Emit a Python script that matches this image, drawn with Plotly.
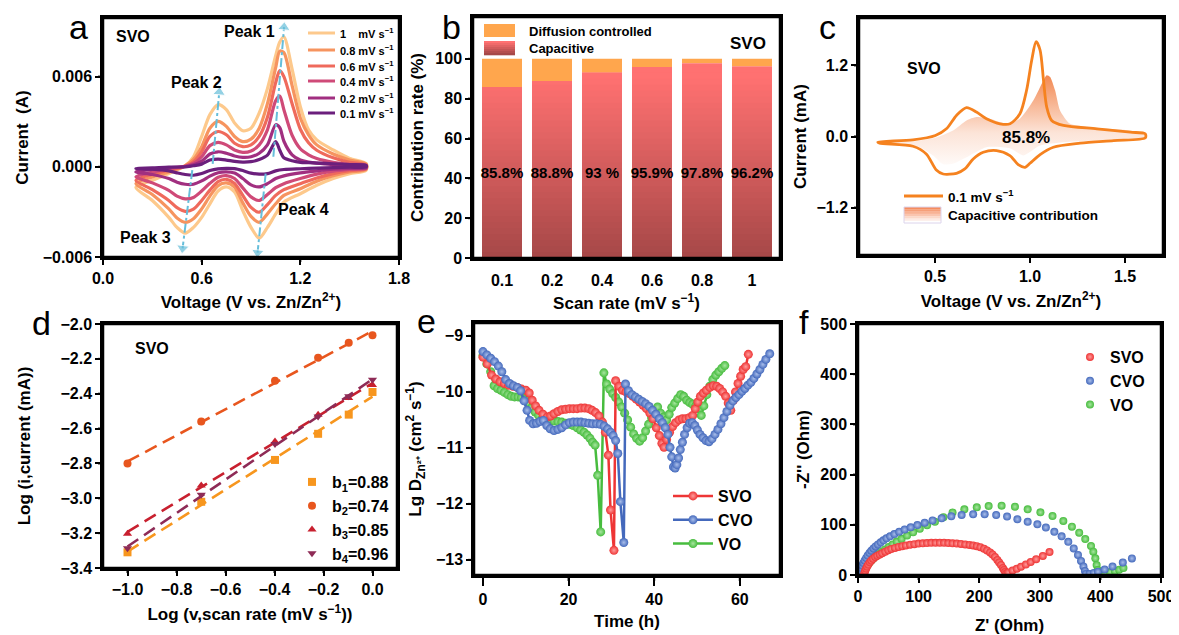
import numpy as np
import plotly.graph_objects as go

# The page body has an 8px default margin, so the figure is laid out in page pixels minus 8.
OFF = 8
W, H = 1179 - OFF, 635 - OFF
FONT = "Liberation Sans, Arial, Helvetica, sans-serif"

# ---------------- (a) CV curves at different scan rates (A) ----------------
cv_voltage_anodic = [0.2, 0.3, 0.4, 0.5, 0.55, 0.6, 0.65, 0.7, 0.75, 0.8, 0.85, 0.9, 0.95,
                     1.0, 1.05, 1.075, 1.1, 1.15, 1.2, 1.25, 1.3, 1.4, 1.5, 1.6]
cv_voltage_cathodic = [1.6, 1.5, 1.4, 1.3, 1.2, 1.1, 1.05, 1.0, 0.95, 0.9, 0.85, 0.8, 0.75,
                       0.7, 0.65, 0.6, 0.55, 0.5, 0.45, 0.4, 0.3, 0.2]
scan_rate_names = ["1\u00a0\u00a0\u00a0\u00a0mV s<sup>\u22121</sup>", "0.8 mV s<sup>\u22121</sup>",
                   "0.6 mV s<sup>\u22121</sup>", "0.4 mV s<sup>\u22121</sup>",
                   "0.2 mV s<sup>\u22121</sup>", "0.1 mV s<sup>\u22121</sup>"]
cv_colors = ["#FDC98C", "#F6945F", "#EF6A5C", "#CF4A78", "#A12F80", "#6B1F7C"]

cv_1_anodic = [-0.00136, -0.0009, -0.00045, 0.00007, 0.00067, 0.00202, 0.00347, 0.00414, 0.00381,
               0.00291, 0.0024, 0.00257, 0.00358, 0.0052, 0.0074, 0.0083, 0.00865, 0.0065, 0.004,
               0.00246, 0.00179, 0.00112, 0.00056, 0.00022]
cv_1_cathodic = [-0.00022, -0.00045, -0.00078, -0.00123, -0.00179, -0.00235, -0.00313, -0.00403,
                 -0.00475, -0.00403, -0.00291, -0.00168, -0.00134, -0.00161, -0.00246, -0.00336,
                 -0.00403, -0.00441, -0.00403, -0.00336, -0.00224, -0.00136]
cv_08_anodic = [-0.00112, -0.00067, -0.00034, 0.00007, 0.00049, 0.00134, 0.00257, 0.00302, 0.00269,
                0.00202, 0.00168, 0.00184, 0.00257, 0.0042, 0.0066, 0.0077, 0.0076, 0.0054, 0.00325,
                0.00213, 0.00146, 0.00085, 0.00045, 0.00018]
cv_08_cathodic = [-0.00018, -0.00034, -0.0006, -0.00096, -0.00146, -0.0019, -0.00246, -0.00313,
                  -0.00369, -0.0033, -0.0024, -0.00135, -0.00107, -0.00125, -0.00195, -0.0028,
                  -0.00345, -0.00369, -0.0034, -0.0028, -0.00184, -0.00112]
cv_06_anodic = [-0.0009, -0.00049, -0.00022, 0.00004, 0.00034, 0.001, 0.00202, 0.00235, 0.00213,
                0.00157, 0.00134, 0.00146, 0.00202, 0.0033, 0.0056, 0.0064, 0.006, 0.0042, 0.0025,
                0.0016, 0.0011, 0.0006, 0.0003, 0.00013]
cv_06_cathodic = [-0.00013, -0.00025, -0.00045, -0.00074, -0.00112, -0.00152, -0.0019, -0.00251,
                  -0.00302, -0.0027, -0.0019, -0.0011, -0.00083, -0.00098, -0.00155, -0.00224,
                  -0.00282, -0.00296, -0.00272, -0.00224, -0.00152, -0.0009]
cv_04_anodic = [-0.00067, -0.00036, -0.00013, 0.00004, 0.00022, 0.00067, 0.00141, 0.00163, 0.00146,
                0.00112, 0.00096, 0.00105, 0.00146, 0.00246, 0.0044, 0.0047, 0.0038, 0.0021, 0.0012,
                0.0008, 0.00055, 0.0003, 0.00017, 0.0001]
cv_04_cathodic = [-0.00011, -0.00018, -0.00029, -0.00049, -0.00078, -0.00112, -0.00139, -0.00184,
                  -0.00224, -0.002, -0.0014, -0.00078, -0.00058, -0.0007, -0.0011, -0.00161,
                  -0.00204, -0.00213, -0.00195, -0.00157, -0.00107, -0.00067]
cv_02_anodic = [-0.00034, -0.00018, -0.00007, 0.00002, 0.00013, 0.00038, 0.00085, 0.001, 0.0009,
                0.00072, 0.00063, 0.00067, 0.0009, 0.00146, 0.0028, 0.0026, 0.0017, 0.0008, 0.00045,
                0.00032, 0.00024, 0.00015, 0.0001, 0.00007]
cv_02_cathodic = [-0.00007, -0.0001, -0.00016, -0.00027, -0.0004, -0.0006, -0.00078, -0.00112,
                  -0.00134, -0.0012, -0.00078, -0.00042, -0.00034, -0.0004, -0.00062, -0.00094,
                  -0.00116, -0.00116, -0.00102, -0.00078, -0.00051, -0.00034]
cv_01_anodic = [-0.00011, -0.00007, -0.00002, 0.0, 0.00007, 0.00018, 0.00045, 0.00051, 0.00045,
                0.00036, 0.00031, 0.00034, 0.00049, 0.00078, 0.00168, 0.0011, 0.0006, 0.0004, 0.0003,
                0.00028, 0.00025, 0.0002, 0.00015, 0.0001]
cv_01_cathodic = [0.0, -0.00003, -0.00005, -0.00009, -0.00013, -0.00018, -0.00027, -0.00045,
                  -0.00049, -0.00042, -0.00025, -0.00012, -0.0001, -0.00014, -0.00025, -0.00045,
                  -0.00056, -0.00051, -0.0004, -0.00027, -0.00016, -0.00011]
cv_anodic_all = [cv_1_anodic, cv_08_anodic, cv_06_anodic, cv_04_anodic, cv_02_anodic, cv_01_anodic]
cv_cathodic_all = [cv_1_cathodic, cv_08_cathodic, cv_06_cathodic, cv_04_cathodic, cv_02_cathodic,
                   cv_01_cathodic]

peak_names = ["Peak 1", "Peak 2", "Peak 3", "Peak 4"]
peak_arrow_v = [[1.036, 1.101], [0.667, 0.707], [0.543, 0.484], [0.989, 0.94]]
peak_arrow_i = [[0.00067, 0.00929], [0.0002, 0.00497], [-0.00022, -0.00542], [-0.00045, -0.00571]]
peak_label_v = [0.888, 0.566, 0.261, 1.222]
peak_label_i = [0.0090, 0.0056, -0.00473, -0.00287]

# ---------------- (b) contribution ratio ----------------
scan_rates_b = ["0.1", "0.2", "0.4", "0.6", "0.8", "1"]
capacitive_pct = [85.8, 88.8, 93.0, 95.9, 97.8, 96.2]
diffusion_pct = [14.2, 11.2, 7.0, 4.1, 2.2, 3.8]
pct_labels = ["85.8%", "88.8%", "93 %", "95.9%", "97.8%", "96.2%"]

# ---------------- (c) capacitive contribution at 0.1 mV/s (mA) ----------------
c_anodic_v = [0.199, 0.384, 0.502, 0.56, 0.613, 0.666, 0.718, 0.771, 0.842, 0.895, 0.947, 0.982,
              1.009, 1.032, 1.053, 1.071, 1.088, 1.114, 1.176, 1.352, 1.528, 1.607]
c_anodic_i = [-0.096, -0.057, 0.017, 0.13, 0.356, 0.486, 0.412, 0.3, 0.215, 0.215, 0.384, 0.78,
              1.288, 1.599, 1.458, 0.949, 0.497, 0.271, 0.186, 0.13, 0.073, 0.045]
c_cathodic_v = [1.607, 1.44, 1.264, 1.123, 1.053, 1.0, 0.974, 0.938, 0.894, 0.824, 0.754, 0.701,
                0.657, 0.613, 0.543, 0.507, 0.454, 0.384, 0.208, 0.199]
c_cathodic_i = [-0.023, -0.068, -0.113, -0.181, -0.305, -0.452, -0.52, -0.475, -0.322, -0.237,
                -0.266, -0.379, -0.547, -0.621, -0.633, -0.565, -0.294, -0.164, -0.113, -0.096]
cap_upper_v = [0.208, 0.384, 0.502, 0.595, 0.666, 0.718, 0.789, 0.877, 0.947, 1.018, 1.071, 1.088,
               1.106, 1.132, 1.158, 1.211, 1.352, 1.528, 1.607]
cap_upper_i = [-0.1, -0.085, -0.023, 0.1, 0.271, 0.328, 0.3, 0.215, 0.3, 0.61, 0.95, 1.035, 1.006,
               0.78, 0.44, 0.215, 0.147, 0.102, 0.045]
cap_lower_v = [1.607, 1.352, 1.176, 1.053, 0.965, 0.894, 0.771, 0.666, 0.595, 0.543, 0.49, 0.419,
               0.296, 0.208]
cap_lower_i = [-0.023, -0.068, -0.096, -0.152, -0.32, -0.2, -0.18, -0.35, -0.46, -0.47, -0.32,
               -0.18, -0.113, -0.1]

# ---------------- (d) log(i) vs log(v) ----------------
log_scan_rate = [-1.0, -0.699, -0.398, -0.222, -0.097, 0.0]
log_i_peak1 = [-3.31, -3.02, -2.78, -2.63, -2.52, -2.39]
log_i_peak2 = [-2.80, -2.56, -2.325, -2.193, -2.107, -2.065]
log_i_peak3 = [-3.203, -2.926, -2.674, -2.52, -2.425, -2.35]
log_i_peak4 = [-3.286, -2.98, -2.688, -2.531, -2.415, -2.32]
b_names = ["b<sub>1</sub>=0.88", "b<sub>2</sub>=0.74", "b<sub>3</sub>=0.85", "b<sub>4</sub>=0.96"]

# ---------------- (e) GITT diffusion coefficients ----------------
svo_time = [0, 1.0, 2.0, 3.0, 4.0, 5.0, 6.0, 7.0, 8.0, 9.0, 10.0, 10.8, 11.5, 12.3, 13.1, 14.0,
            15.0, 15.8, 16.6, 17.5, 18.4, 19.3, 20.2, 21.1, 22.0, 22.9, 23.8, 24.7, 25.5, 26.3,
            27.1, 27.9, 28.6, 29.3, 29.8, 30.6, 31.0, 31.8, 32.6, 33.4, 34.2, 35.0, 35.8, 36.6,
            37.4, 38.2, 39.0, 39.7, 40.5, 41.2, 41.8, 42.3, 42.9, 43.6, 44.3, 45.0, 45.8, 46.6,
            47.4, 48.2, 49.0, 49.6, 50.2, 50.8, 51.5, 52.2, 53.0, 53.8, 54.6, 55.3, 56.0, 56.7,
            57.3, 57.9, 58.5, 59.0, 59.6, 60.2, 60.8, 61.4, 62.0]
svo_lgd = [-9.38, -9.5, -9.7, -9.77, -9.82, -9.85, -9.88, -9.9, -9.92, -9.95, -9.97, -10.02,
           -10.15, -10.25, -10.33, -10.4, -10.45, -10.43, -10.39, -10.35, -10.32, -10.31, -10.3,
           -10.3, -10.3, -10.29, -10.29, -10.3, -10.33, -10.37, -10.43, -10.54, -10.72, -11.13,
           -12.11, -12.83, -9.8, -9.9, -9.97, -10.0, -10.03, -10.08, -10.13, -10.18, -10.24, -10.3,
           -10.38, -10.48, -10.64, -10.78, -10.92, -10.99, -10.85, -10.72, -10.62, -10.55, -10.5,
           -10.48, -10.48, -10.46, -10.42, -10.3, -10.18, -10.08, -10.02, -9.97, -9.92, -9.89, -9.9,
           -9.94, -10.0, -10.08, -10.2, -10.33, -10.15, -10.0, -9.85, -9.72, -9.6, -9.55, -9.33]
cvo_time = [0, 0.9, 1.8, 2.7, 3.6, 4.4, 5.3, 6.2, 7.1, 8.0, 8.8, 9.6, 10.3, 10.9, 11.7, 12.5, 13.3,
            14.1, 14.9, 15.7, 16.6, 17.5, 18.4, 19.3, 20.2, 21.1, 22.0, 22.9, 23.8, 24.7, 25.6,
            26.5, 27.4, 28.3, 29.1, 29.8, 30.4, 31.0, 31.5, 32.1, 32.9, 33.3, 34.0, 34.8, 35.6,
            36.4, 37.2, 38.0, 38.8, 39.6, 40.4, 41.2, 41.9, 42.6, 43.2, 43.7, 44.1, 44.5, 44.9,
            45.3, 45.7, 46.1, 46.6, 47.1, 47.7, 48.3, 48.9, 49.5, 50.1, 50.7, 51.4, 52.1, 52.8,
            53.5, 54.2, 54.9, 55.6, 56.3, 57.0, 57.7, 58.4, 59.1, 59.8, 60.5, 61.2, 61.9, 62.6,
            63.3, 64.0, 64.7, 65.4, 66.1, 67.0]
cvo_lgd = [-9.28, -9.34, -9.40, -9.46, -9.54, -9.64, -9.78, -9.85, -9.89, -9.92, -9.98, -10.16,
           -10.33, -10.51, -10.57, -10.56, -10.53, -10.51, -10.6, -10.66, -10.69, -10.67, -10.64,
           -10.59, -10.55, -10.54, -10.54, -10.54, -10.55, -10.56, -10.57, -10.57, -10.58, -10.61,
           -10.66, -10.72, -10.78, -10.87, -11.10, -11.96, -12.69, -9.86, -9.98, -10.05, -10.09,
           -10.13, -10.17, -10.21, -10.26, -10.33, -10.40, -10.48, -10.55, -10.64, -10.76, -10.99,
           -11.16, -11.34, -11.36, -11.30, -11.18, -11.03, -10.9, -10.76, -10.64, -10.56, -10.55,
           -10.6, -10.68, -10.76, -10.82, -10.87, -10.89, -10.84, -10.76, -10.67, -10.57, -10.46,
           -10.35, -10.24, -10.16, -10.1, -10.05, -9.99, -9.94, -9.88, -9.83, -9.76, -9.68, -9.6,
           -9.51, -9.42, -9.32]
vo_time = [0, 0.9, 1.8, 2.6, 3.4, 4.2, 5.0, 5.8, 6.6, 7.4, 8.2, 9.0, 9.8, 10.6, 11.4, 12.2, 13.0,
           13.9, 14.8, 15.7, 16.6, 17.5, 18.4, 19.3, 20.2, 21.1, 22.0, 22.8, 23.6, 24.3, 25.0, 25.6,
           26.2, 26.8, 27.5, 28.25, 28.9, 29.6, 30.3, 31.0, 31.7, 32.4, 33.1, 33.8, 34.5, 35.2,
           35.9, 36.6, 37.3, 38.0, 38.7, 39.4, 40.1, 40.8, 41.5, 42.2, 42.9, 43.5, 44.1, 44.8, 45.5,
           46.2, 46.9, 47.6, 48.3, 49.0, 49.7, 50.4, 51.0, 51.6, 52.3, 53.0, 53.7, 54.4, 55.1,
           55.8, 56.5]
vo_lgd = [-9.35, -9.5, -9.64, -9.89, -9.94, -9.97, -10.01, -10.05, -10.08, -10.09, -10.09, -10.1,
          -10.13, -10.2, -10.28, -10.36, -10.42, -10.47, -10.5, -10.51, -10.52, -10.53, -10.54,
          -10.56, -10.58, -10.6, -10.64, -10.68, -10.72, -10.77, -10.83, -10.9, -10.95, -11.49,
          -12.5, -9.66, -9.86, -9.95, -10.03, -10.1, -10.18, -10.27, -10.38, -10.5, -10.63, -10.75,
          -10.83, -10.88, -10.82, -10.7, -10.58, -10.46, -10.36, -10.27, -10.38, -10.45, -10.5,
          -10.4, -10.28, -10.2, -10.12, -10.05, -10.08, -10.15, -10.19, -10.22, -10.25, -10.3,
          -10.42, -10.25, -10.05, -9.9, -9.78, -9.7, -9.64, -9.58, -9.53]

# ---------------- (f) Nyquist plots ----------------
svo_zre = [10, 11, 12, 13.5, 15, 17, 19.5, 22, 25, 28.5, 32, 36, 40, 45, 50, 55, 61, 67, 73, 79,
           86, 93, 100, 107, 114, 121, 128, 135, 142, 149, 156, 163, 170, 177, 184, 190, 196, 202,
           208, 213, 218, 222, 226, 230, 233, 236, 239, 241, 243, 245, 248, 255, 262, 269, 277,
           285, 294, 305, 316]
svo_zim = [1, 5, 9, 13, 17, 21, 25.5, 29, 32.5, 36, 38.5, 41, 43.5, 46.5, 49.5, 52, 54, 56, 57.5,
           59, 60.5, 61.5, 62.5, 63, 63.5, 64, 64, 64, 64, 63.5, 63, 62.5, 62, 61, 60, 59, 57.5,
           55.5, 52.5, 49, 45, 41, 36, 30, 25, 20, 14, 10, 6, 3, 5, 9, 12.5, 16.5, 21, 26, 31.5,
           38, 46]
cvo_zre = [2, 3, 4, 5.5, 7, 9, 11, 13.5, 16, 19, 22, 25.5, 29, 33, 37.5, 42, 47, 53, 60, 68, 77,
           87, 98, 110, 123, 138, 154, 171, 190, 209, 228, 246, 263, 280, 296, 310, 324, 336, 347,
           356, 363, 368, 372, 374.5, 376, 382, 389, 396, 407, 420, 437, 452]
cvo_zim = [1, 5, 9, 14, 19, 24, 29, 34, 39, 44, 48.5, 53, 57, 61, 65, 69, 73, 77, 81.5, 86, 90.5,
           95, 99.5, 104, 108.5, 113, 117, 119.5, 121, 121, 119.5, 116.5, 111, 106, 101, 94.5, 86,
           77, 66, 53, 40, 28, 17, 8, 2, 2, 4, 6.5, 11, 17, 25, 33]
vo_zre = [8, 9, 10.5, 12, 14, 16.5, 19, 22, 25.5, 29.5, 34, 39, 44.5, 50.5, 57, 64, 72, 81, 91,
          102, 114, 127, 141, 156, 175.5, 196, 215.6, 237, 259, 280, 301, 321, 338.8, 353, 365,
          375, 384.5, 388.3, 391.6, 393.8, 395.5, 397, 400, 408, 416, 424, 431, 438]
vo_zim = [1, 5, 9, 13, 17, 21, 25, 29, 33, 37.5, 42, 46.5, 51, 56, 61, 66.5, 72, 78.5, 85, 92, 99,
          106, 115, 124.5, 130.8, 134.8, 137.4, 138, 136, 130.8, 124.8, 117.5, 107.6, 96.3, 84.3,
          71.7, 57.8, 46.4, 33.2, 19.9, 10, 2, 2, 4, 6, 8, 10.5, 14]

# tick values
ticks_a_x = [0, 0.6, 1.2, 1.8]
ticks_a_y = [-0.006, 0, 0.006]
ticks_b_y = [0, 20, 40, 60, 80, 100]
ticks_c_x = [0.5, 1.0, 1.5]
ticks_c_y = [-1.2, 0, 1.2]
ticks_d_x = [-1.0, -0.8, -0.6, -0.4, -0.2, 0.0]
ticks_d_y = [-3.4, -3.2, -3.0, -2.8, -2.6, -2.4, -2.2, -2.0]
ticks_e_x = [0, 20, 40, 60]
ticks_e_y = [-13, -12, -11, -10, -9]
ticks_f = [0, 100, 200, 300, 400, 500]

RED, BLUE, GREEN = "#EE3535", "#4469BC", "#47BC3E"
RED_HI, BLUE_HI, GREEN_HI = "#FF9C9C", "#A9BEEA", "#A8E6A0"
ORANGE_C = "#F5821F"


def px(x):
    return (x - OFF) / W


def py(y):
    return 1 - (y - OFF) / H


def dom_x(left, right):
    return [px(left), px(right)]


def dom_y(top, bottom):
    return [py(bottom), py(top)]


# plot boxes in page pixels: (left, top, right, bottom)
BOX = {"a": (103, 18, 399, 257), "b": (473, 17, 780, 258), "c": (859, 18, 1163, 255),
       "d": (103, 324, 397, 568), "e": (474, 323, 780, 575), "f": (858, 324, 1161, 575)}


def tfont(size=16):
    return dict(family=FONT, size=size, color="black", weight="bold")


def axis(domain, anchor, rng, title, standoff, **kw):
    d = dict(domain=domain, anchor=anchor, range=rng, showline=True, linecolor="black",
             linewidth=2.5, mirror=True, ticks="outside", ticklen=5, tickwidth=2,
             tickcolor="black", showgrid=False, zeroline=False, tickfont=tfont(16),
             automargin=False,
             title=dict(text=title, font=tfont(17), standoff=standoff))
    d.update(kw)
    return d


fig = go.Figure()

# ----- panel a -----
for name, col, an, ca in zip(scan_rate_names, cv_colors, cv_anodic_all, cv_cathodic_all):
    fig.add_trace(go.Scatter(x=cv_voltage_anodic + cv_voltage_cathodic, y=an + ca, mode="lines",
                             name=name, showlegend=False,
                             line=dict(color=col, width=3.2, shape="spline", smoothing=0.8),
                             xaxis="x", yaxis="y"))
for av, ai in zip(peak_arrow_v, peak_arrow_i):
    fig.add_trace(go.Scatter(x=av, y=ai, mode="lines+markers", showlegend=False,
                             line=dict(color="#66BEDA", width=2, dash="dashdot"),
                             marker=dict(symbol="triangle-up", size=[0, 11], angleref="previous",
                                         color="#66BEDA"),
                             xaxis="x", yaxis="y"))

# ----- panel b (gradient-shaded bars) -----
fig.add_trace(go.Bar(x=scan_rates_b, y=diffusion_pct, base=capacitive_pct, name="Diffusion controlled",
                     marker=dict(color="#FFA64D", line=dict(width=0)), showlegend=False,
                     xaxis="x2", yaxis="y2"))
BAND = 3.0
bottom_rgb = np.array([166, 72, 72])
top_rgb = np.array([255, 113, 113])
n_band = int(np.ceil(max(capacitive_pct) / BAND))
for k in range(n_band - 1, -1, -1):
    top = (k + 1) * BAND
    t = min((k + 0.5) * BAND / 90.0, 1.0)
    rgb = (bottom_rgb + t * (top_rgb - bottom_rgb)).astype(int)
    fig.add_trace(go.Bar(x=scan_rates_b, y=[min(c, top) for c in capacitive_pct],
                         marker=dict(color="rgb(%d,%d,%d)" % tuple(rgb), line=dict(width=0)),
                         showlegend=False, hoverinfo="skip", xaxis="x2", yaxis="y2",
                         name="Capacitive"))
fig.add_trace(go.Scatter(x=scan_rates_b, y=[42] * len(scan_rates_b), text=pct_labels, mode="text",
                         textfont=tfont(15), showlegend=False, xaxis="x2", yaxis="y2"))

# ----- panel c -----
fig.add_trace(go.Scatter(x=cap_upper_v + cap_lower_v, y=cap_upper_i + cap_lower_i, fill="toself",
                         mode="lines", line=dict(width=0, shape="spline", smoothing=0.6),
                         fillgradient=dict(type="vertical", start=-0.6, stop=1.05,
                                           colorscale=[[0, "#FFFFFF"], [0.4, "#FCE4D8"],
                                                       [1, "#F2874F"]]),
                         showlegend=False, xaxis="x3", yaxis="y3"))
fig.add_trace(go.Scatter(x=c_anodic_v + c_cathodic_v, y=c_anodic_i + c_cathodic_i, mode="lines",
                         line=dict(color=ORANGE_C, width=2.8, shape="spline", smoothing=0.8),
                         showlegend=False, xaxis="x3", yaxis="y3"))

# ----- panel d -----
d_series = [log_i_peak1, log_i_peak2, log_i_peak3, log_i_peak4]
d_colors = ["#F7961E", "#E8561E", "#C8202F", "#8E2B56"]
d_symbols = ["square", "circle", "triangle-up", "triangle-down"]
for ys, col, sym, nm in zip(d_series, d_colors, d_symbols, b_names):
    slope, icpt = np.polyfit(log_scan_rate, ys, 1)
    fx = [log_scan_rate[0], log_scan_rate[-1]]
    fig.add_trace(go.Scatter(x=fx, y=[slope * v + icpt for v in fx], mode="lines",
                             line=dict(color=col, width=2.6, dash="13px,7px"), showlegend=False,
                             xaxis="x4", yaxis="y4"))
    fig.add_trace(go.Scatter(x=log_scan_rate, y=ys, mode="markers", name=nm,
                             marker=dict(symbol=sym, size=8, color=col), xaxis="x4", yaxis="y4",
                             legend="legend2"))

# ----- panel e -----
for t, v, col, hi, nm, rk in [(vo_time, vo_lgd, GREEN, GREEN_HI, "VO", 3),
                              (svo_time, svo_lgd, RED, RED_HI, "SVO", 1),
                              (cvo_time, cvo_lgd, BLUE, BLUE_HI, "CVO", 2)]:
    fig.add_trace(go.Scatter(x=t, y=v, mode="lines+markers", name=nm, legendrank=rk,
                             line=dict(color=col, width=2.5),
                             marker=dict(size=9, color=col, gradient=dict(type="radial", color=hi),
                                         line=dict(width=0)),
                             xaxis="x5", yaxis="y5", legend="legend3"))

# ----- panel f -----
for zr, zi, col, hi, nm, rk in [(vo_zre, vo_zim, GREEN, GREEN_HI, "VO", 3),
                                (cvo_zre, cvo_zim, BLUE, BLUE_HI, "CVO", 2),
                                (svo_zre, svo_zim, RED, RED_HI, "SVO", 1)]:
    fig.add_trace(go.Scatter(x=zr, y=zi, mode="markers", name=nm, legendrank=rk,
                             marker=dict(size=8, color=col, gradient=dict(type="radial", color=hi),
                                         line=dict(width=0)),
                             xaxis="x6", yaxis="y6", legend="legend4"))

# ----- axes -----
Ba, Bb, Bc, Bd, Be, Bf = (BOX[k] for k in "abcdef")
layout_axes = dict(
    xaxis=axis(dom_x(Ba[0], Ba[2]), "y", [0, 1.8], "Voltage (V vs. Zn/Zn<sup>2+</sup>)", 11,
               tickvals=ticks_a_x, tickformat=".1f"),
    yaxis=axis(dom_y(Ba[1], Ba[3]), "x", [-0.006, 0.0099], "Current\u00a0\u00a0(A)", 10,
               tickvals=ticks_a_y, tickformat=".3f"),
    xaxis2=axis(dom_x(Bb[0], Bb[2]), "y2", [-0.58, 5.56], "Scan rate (mV s<sup>\u22121</sup>)", 10,
                type="category", ticks="", ticklabelstandoff=6),
    yaxis2=axis(dom_y(Bb[1], Bb[3]), "x2", [0, 121], "Contribution rate (%)", 8,
                tickvals=ticks_b_y),
    xaxis3=axis(dom_x(Bc[0], Bc[2]), "y3", [0.1, 1.7], "Voltage (V vs. Zn/Zn<sup>2+</sup>)", 12,
                tickvals=ticks_c_x, tickformat=".1f"),
    yaxis3=axis(dom_y(Bc[1], Bc[3]), "x3", [-2.0, 2.0], "Current (mA)", 6,
                tickvals=ticks_c_y, tickformat=".1f"),
    xaxis4=axis(dom_x(Bd[0], Bd[2]), "y4", [-1.1, 0.1], "Log (v,scan rate (mV s<sup>\u22121</sup>))",
                12, tickvals=ticks_d_x, tickformat=".1f"),
    yaxis4=axis(dom_y(Bd[1], Bd[3]), "x4", [-3.4, -2.0], "Log (i,current (mA))", 26,
                tickvals=ticks_d_y, tickformat=".1f"),
    xaxis5=axis(dom_x(Be[0], Be[2]), "y5", [-2.1, 69.4], "Time (h)", 9, tickvals=ticks_e_x,
                ticklen=8),
    yaxis5=axis(dom_y(Be[1], Be[3]), "x5", [-13.27, -8.77],
                "Lg D<sub>Zn\u00b2\u207a</sub> (cm<sup>2</sup> s<sup>\u22121</sup>)", 10,
                tickvals=ticks_e_y),
    xaxis6=axis(dom_x(Bf[0], Bf[2]), "y6", [0, 500], "Z' (Ohm)", 18, tickvals=ticks_f),
    yaxis6=axis(dom_y(Bf[1], Bf[3]), "x6", [0, 500], "-Z'' (Ohm)", 7, tickvals=ticks_f),
)

shapes = []
# frames and tick marks drawn explicitly so they always show
for key, xr, yr in [("a", "x", "y"), ("b", "x2", "y2"), ("c", "x3", "y3"), ("d", "x4", "y4"),
                    ("e", "x5", "y5"), ("f", "x6", "y6")]:
    shapes.append(dict(type="rect", xref=xr + " domain", yref=yr + " domain", x0=0, x1=1, y0=0,
                       y1=1, line=dict(color="black", width=2.5), layer="above"))
tick_specs = [("x", "y", ticks_a_x, ticks_a_y, "a", 5), ("x2", "y2", [], ticks_b_y, "b", 5),
              ("x3", "y3", ticks_c_x, ticks_c_y, "c", 5), ("x4", "y4", ticks_d_x, ticks_d_y, "d", 5),
              ("x5", "y5", ticks_e_x, ticks_e_y, "e", 6), ("x6", "y6", ticks_f, ticks_f, "f", 5)]
for xr, yr, xt, yt, key, tl in tick_specs:
    L, T, R, B = BOX[key]
    fy = tl / (B - T)
    fx_ = tl / (R - L)
    for v in xt:
        shapes.append(dict(type="line", xref=xr, yref=yr + " domain", x0=v, x1=v, y0=0, y1=-fy,
                           line=dict(color="black", width=2)))
    for v in yt:
        shapes.append(dict(type="line", xref=xr + " domain", yref=yr, x0=0, x1=-fx_, y0=v, y1=v,
                           line=dict(color="black", width=2)))

# manual legend for (a)
legend_a_rows = [33, 50, 66, 81, 98, 113]
for col, ry in zip(cv_colors, legend_a_rows):
    shapes.append(dict(type="line", xref="paper", yref="paper", x0=px(308), x1=px(335), y0=py(ry),
                       y1=py(ry), line=dict(color=col, width=3)))

# manual legends for b and c
shapes.append(dict(type="rect", xref="paper", yref="paper", x0=px(484), x1=px(515), y0=py(37),
                   y1=py(24), fillcolor="#FFA64D", line=dict(width=0)))
n_s = 7
for k in range(n_s):
    t = k / (n_s - 1)
    rgb = (top_rgb + t * (bottom_rgb - top_rgb)).astype(int)
    y0 = 41 + k * 14 / n_s
    shapes.append(dict(type="rect", xref="paper", yref="paper", x0=px(484), x1=px(515),
                       y0=py(y0 + 14 / n_s + 0.3), y1=py(y0), fillcolor="rgb(%d,%d,%d)" % tuple(rgb),
                       line=dict(width=0)))
shapes.append(dict(type="line", xref="paper", yref="paper", x0=px(904), x1=px(943), y0=py(196),
                   y1=py(196), line=dict(color=ORANGE_C, width=2.8)))
c_top = np.array([245, 140, 95])
c_bot = np.array([255, 255, 255])
for k in range(n_s):
    t = k / (n_s - 1)
    rgb = (c_top + t * (c_bot - c_top)).astype(int)
    y0 = 207 + k * 16 / n_s
    shapes.append(dict(type="rect", xref="paper", yref="paper", x0=px(904), x1=px(941),
                       y0=py(y0 + 16 / n_s + 0.3), y1=py(y0), fillcolor="rgb(%d,%d,%d)" % tuple(rgb),
                       line=dict(width=0)))
shapes.append(dict(type="rect", xref="paper", yref="paper", x0=px(904), x1=px(941), y0=py(223),
                   y1=py(207), line=dict(color="#DCD4EC", width=1)))

annotations = []


def ann(text, x, y, size=16, xref="paper", yref="paper", bold=True, xanchor="center"):
    f = dict(family=FONT, size=size, color="black", weight="bold" if bold else "normal")
    annotations.append(dict(text=text, x=x, y=y, xref=xref, yref=yref, showarrow=False, font=f,
                            xanchor=xanchor, yanchor="middle"))


# panel letters
for letter, (lx, ly) in zip("abcdef", [(78, 27), (451, 27), (827, 27), (41, 323), (426, 321),
                                        (804, 322)]):
    ann(letter, px(lx), py(ly), size=34, bold=False)

for nm, ry in zip(scan_rate_names, legend_a_rows):
    ann(nm, px(338), py(ry), 11, xanchor="left")
ann("SVO", 0.182, 0.00867, 16, "x", "y")
for nm, lv, li in zip(peak_names, peak_label_v, peak_label_i):
    ann(nm, lv, li, 16, "x", "y")
ann("SVO", px(748), py(43), 17)
ann("Diffusion controlled", px(527), py(31), 13, xanchor="left")
ann("Capacitive", px(527), py(48), 13, xanchor="left")
ann("SVO", 0.44, 1.15, 16, "x3", "y3")
ann("85.8%", 0.979, -0.02, 17, "x3", "y3")
ann("0.1 mV s<sup>\u22121</sup>", px(946), py(196), 13.5, xanchor="left")
ann("Capacitive contribution", px(946), py(215), 13.5, xanchor="left")
ann("SVO", -0.90, -2.138, 16, "x4", "y4")

legend_common = dict(bgcolor="rgba(0,0,0,0)", borderwidth=0, xanchor="left", yanchor="top")
fig.update_layout(
    template="none",
    width=W, height=H, margin=dict(l=0, r=0, t=0, b=0, pad=0, autoexpand=False),
    paper_bgcolor="white", plot_bgcolor="white",
    font=dict(family=FONT, color="black"),
    barmode="overlay", bargap=0.2,
    showlegend=True,
    legend2=dict(x=px(292), y=py(465), font=tfont(16), itemwidth=30, **legend_common),
    legend3=dict(x=px(668), y=py(479), font=tfont(16), itemwidth=40, **legend_common),
    legend4=dict(x=px(1070), y=py(340), font=tfont(16), itemwidth=30, **legend_common),
    shapes=shapes, annotations=annotations,
    **layout_axes,
)

fig.write_html("out.html")
